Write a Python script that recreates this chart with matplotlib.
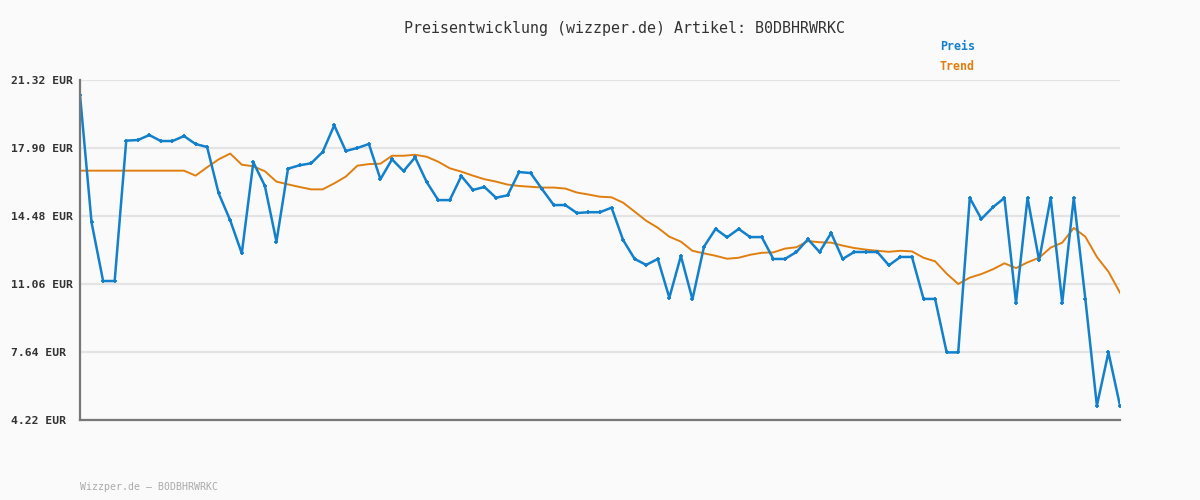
import numpy as np
from matplotlib import pyplot as plt

# Preis (EUR) je Messpunkt
preis = [20.57, 14.16, 11.21, 11.21, 18.27, 18.30, 18.55, 18.25, 18.25, 18.50,
         18.10, 17.95, 15.62, 14.26, 12.60, 17.18, 15.99, 13.19, 16.86, 17.03,
         17.13, 17.70, 19.04, 17.75, 17.90, 18.10, 16.33, 17.33, 16.74, 17.43,
         16.19, 15.28, 15.28, 16.49, 15.79, 15.94, 15.40, 15.52, 16.69, 16.64,
         15.82, 15.03, 15.03, 14.63, 14.67, 14.67, 14.90, 13.27, 12.32, 12.02,
         12.32, 10.37, 12.47, 10.29, 12.94, 13.83, 13.41, 13.83, 13.42, 13.42,
         12.32, 12.32, 12.67, 13.31, 12.67, 13.62, 12.32, 12.67, 12.67, 12.67,
         12.00, 12.42, 12.42, 10.31, 10.31, 7.62, 7.62, 15.39, 14.33, 14.92,
         15.39, 10.12, 15.39, 12.25, 15.39, 10.12, 15.39, 10.31, 4.94, 7.62,
         4.94]

# Trendlinie
trend = [16.76, 16.76, 16.76, 16.76, 16.76, 16.76, 16.76, 16.76, 16.76, 16.76,
         16.51, 16.93, 17.33, 17.62, 17.06, 16.98, 16.73, 16.21, 16.07, 15.94,
         15.82, 15.82, 16.12, 16.46, 17.01, 17.09, 17.11, 17.51, 17.51, 17.56,
         17.46, 17.21, 16.88, 16.71, 16.51, 16.33, 16.21, 16.06, 15.99, 15.95,
         15.91, 15.91, 15.86, 15.66, 15.56, 15.45, 15.42, 15.15, 14.70, 14.24,
         13.89, 13.44, 13.19, 12.73, 12.60, 12.48, 12.33, 12.38, 12.53, 12.63,
         12.65, 12.84, 12.91, 13.22, 13.16, 13.14, 12.99, 12.87, 12.79, 12.73,
         12.68, 12.73, 12.70, 12.38, 12.20, 11.58, 11.06, 11.38, 11.56, 11.80,
         12.10, 11.86, 12.15, 12.38, 12.89, 13.14, 13.88, 13.44, 12.42, 11.68,
         10.62]

y_ticks = [4.22, 7.64, 11.06, 14.48, 17.90, 21.32]
y_labels = ["4.22 EUR", "7.64 EUR", "11.06 EUR", "14.48 EUR", "17.90 EUR", "21.32 EUR"]

blau = "#1380cc"
orange = "#e07f10"
mono = "DejaVu Sans Mono"

x = np.arange(len(preis))

fig = plt.figure(figsize=(12, 5), dpi=100, facecolor="#fafafa")
ax = fig.add_axes([80 / 1200, 80 / 500, 1040 / 1200, 340 / 500])
ax.set_facecolor("#fafafa")

ax.plot(x, trend, color=orange, linewidth=1.4, zorder=3)
ax.plot(x, preis, color=blau, linewidth=1.8, marker="+", markersize=3.5,
        markeredgewidth=1.3, zorder=4)

ax.set_xlim(0, len(preis) - 1)
ax.set_ylim(4.22, 21.32)
ax.set_xticks([])
ax.set_yticks(y_ticks)
ax.set_yticklabels(y_labels, ha="left", family=mono, fontsize=8.2,
                   fontweight="bold", color="#333333")
ax.tick_params(axis="y", length=0, pad=50)

ax.grid(axis="y", color="#e4e4e4", linewidth=1.6, zorder=0)
for s in ["top", "right"]:
    ax.spines[s].set_visible(False)
for s in ["left", "bottom"]:
    ax.spines[s].set_color("#777777")
    ax.spines[s].set_linewidth(1.6)
    ax.spines[s].set_zorder(5)

fig.text(624 / 1200, 1 - 28 / 500, "Preisentwicklung (wizzper.de) Artikel: B0DBHRWRKC",
         ha="center", va="center", family=mono, fontsize=10.8, color="#333333")
fig.text(940 / 1200, 1 - 47 / 500, "Preis", ha="left", va="center", family=mono,
         fontsize=8.4, fontweight="bold", color=blau)
fig.text(940 / 1200, 1 - 67 / 500, "Trend", ha="left", va="center", family=mono,
         fontsize=8.4, fontweight="bold", color=orange)
fig.text(80 / 1200, 1 - 487 / 500, "Wizzper.de – B0DBHRWRKC", ha="left", va="center",
         family=mono, fontsize=7.1, color="#aaaaaa")

fig.savefig("out.png", dpi=100, facecolor=fig.get_facecolor())
